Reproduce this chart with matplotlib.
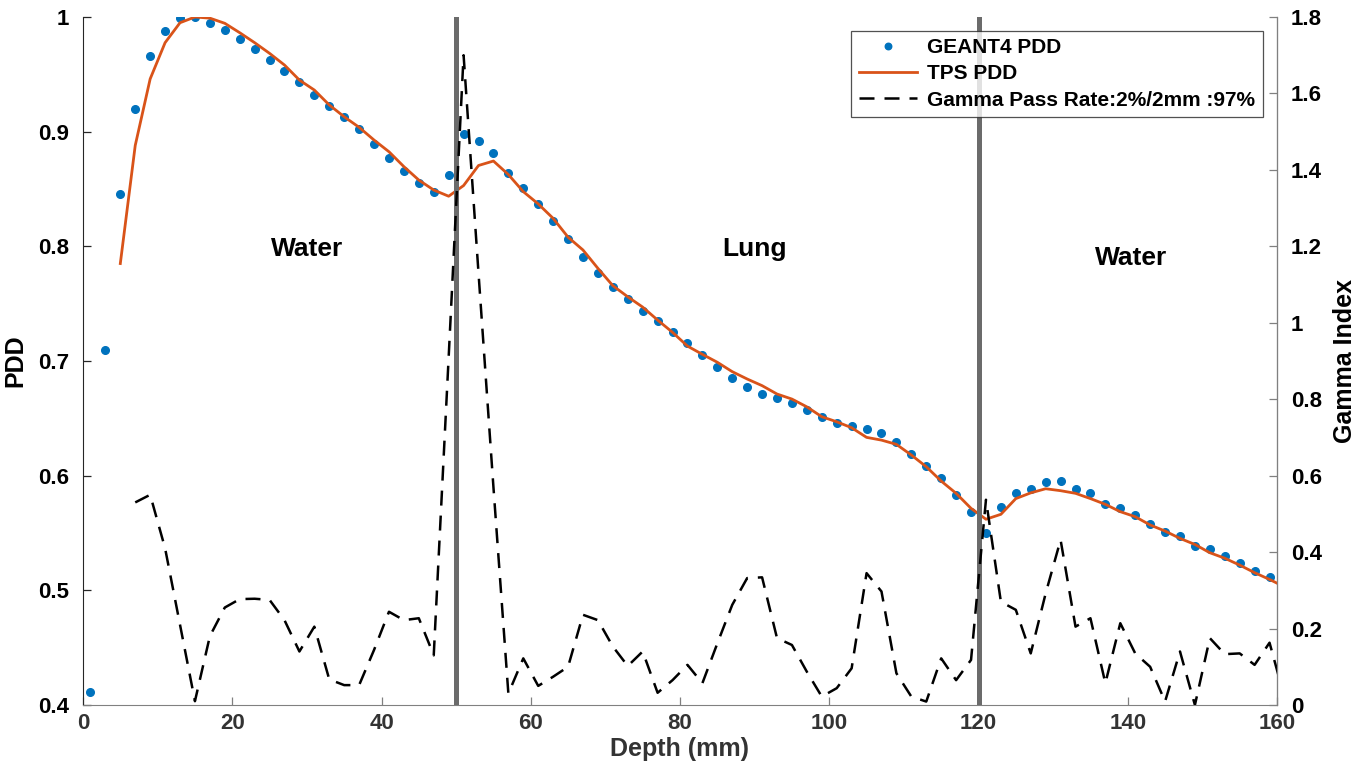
import matplotlib
matplotlib.use("Agg")
import matplotlib.pyplot as plt
from matplotlib.ticker import FuncFormatter
import numpy as np

plt.rcParams["font.family"] = ["Liberation Sans", "DejaVu Sans"]
plt.rcParams["font.weight"] = "bold"

# GEANT4 PDD (Monte Carlo points, every 2 mm)
geant_depth = np.arange(1, 160, 2)
geant_pdd = [
    0.411, 0.710, 0.846, 0.920, 0.966, 0.988, 0.999, 1.000, 0.995, 0.989,
    0.9805, 0.9718, 0.9625, 0.953, 0.943, 0.932, 0.9224, 0.913, 0.902, 0.8895,
    0.8773, 0.8657, 0.855, 0.8476, 0.862, 0.898, 0.892, 0.881, 0.864, 0.8506,
    0.837, 0.8224, 0.8067, 0.791, 0.7767, 0.7645, 0.7538, 0.7436, 0.7346, 0.7256,
    0.716, 0.7052, 0.6945, 0.6849, 0.677, 0.6715, 0.6675, 0.663, 0.657, 0.651,
    0.646, 0.643, 0.641, 0.637, 0.629, 0.6186, 0.608, 0.598, 0.583, 0.568,
    0.550, 0.5727, 0.585, 0.588, 0.5947, 0.5956, 0.5887, 0.585, 0.5753, 0.572,
    0.566, 0.558, 0.551, 0.5474, 0.539, 0.536, 0.530, 0.5236, 0.5166, 0.5119,
]

# TPS PDD
tps_depth = np.arange(5, 162, 2)
tps_pdd = [
    0.785, 0.888, 0.946, 0.9776, 0.995, 1.000, 0.999, 0.9945, 0.9863, 0.9776,
    0.9683, 0.9581, 0.945, 0.9363, 0.9233, 0.913, 0.9038, 0.8927, 0.8825, 0.8695,
    0.8578, 0.8491, 0.8437, 0.853, 0.8705, 0.8744, 0.8626, 0.8477, 0.837, 0.8244,
    0.808, 0.7968, 0.7808, 0.7657, 0.756, 0.747, 0.7357, 0.725, 0.713, 0.7058,
    0.6989, 0.6907, 0.6843, 0.6785, 0.6712, 0.6668, 0.660, 0.6514, 0.647, 0.6418,
    0.6334, 0.631, 0.6273, 0.618, 0.6078, 0.5953, 0.5846, 0.5715, 0.562, 0.5663,
    0.580, 0.585, 0.5886, 0.5869, 0.5846, 0.580, 0.575, 0.5686, 0.5642, 0.557,
    0.5517, 0.5453, 0.540, 0.5328, 0.528, 0.522, 0.5154, 0.5095, 0.503,
]

# Gamma index
gamma_depth = np.arange(7, 162, 2)
gamma_vals = [
    0.53, 0.55, 0.41, 0.21, 0.01, 0.18, 0.255, 0.277, 0.278, 0.275,
    0.222, 0.14, 0.205, 0.067, 0.052, 0.052, 0.144, 0.244, 0.222, 0.227,
    0.13, 0.91, 1.70, 1.13, 0.57, 0.03, 0.122, 0.05, 0.074, 0.10,
    0.236, 0.222, 0.153, 0.102, 0.14, 0.032, 0.065, 0.105, 0.057, 0.161,
    0.262, 0.332, 0.334, 0.175, 0.157, 0.087, 0.022, 0.044, 0.096, 0.345,
    0.297, 0.083, 0.022, 0.009, 0.122, 0.065, 0.118, 0.537, 0.27, 0.249,
    0.135, 0.292, 0.432, 0.205, 0.227, 0.057, 0.214, 0.135, 0.10, 0.009,
    0.14, 0.0, 0.175, 0.133, 0.135, 0.105, 0.163, 0.02,
]

interfaces = [50, 120]
regions = ["Water", "Lung", "Water"]
region_x = [30, 90, 140.5]
region_y = [0.798, 0.798, 0.79]

fig = plt.figure(figsize=(13.65, 7.77), dpi=100)
ax = fig.add_axes([83 / 1365, 72 / 777, (1277 - 83) / 1365, (705 - 17) / 777])
ax2 = ax.twinx()

h1, = ax.plot(geant_depth, geant_pdd, linestyle="none", marker="o", markersize=5.5,
              color="#0072BD", label="GEANT4 PDD", zorder=3)
h2, = ax.plot(tps_depth, tps_pdd, color="#D95319", linewidth=2.0,
              label="TPS PDD", zorder=4)
for xi in interfaces:
    ax.axvline(xi, color="#6b6b6b", linewidth=3.6, zorder=5)

for name, xr, yr in zip(regions, region_x, region_y):
    ax.text(xr, yr, name, fontsize=19, fontweight="bold", ha="center", va="center")

h3, = ax2.plot(gamma_depth, gamma_vals, color="black", linewidth=1.8,
               linestyle=(0, (6, 4)), label="Gamma Pass Rate:2%/2mm :97%")

ax.set_xlim(0, 160)
ax.set_ylim(0.4, 1.0)
ax2.set_ylim(0, 1.8)
ax.set_xticks(np.arange(0, 161, 20))
ax.set_yticks(np.arange(0.4, 1.01, 0.1))
ax2.set_yticks(np.arange(0, 1.81, 0.2))
fmt = FuncFormatter(lambda v, p: f"{v:g}")
ax.yaxis.set_major_formatter(fmt)
ax2.yaxis.set_major_formatter(fmt)

for a in (ax, ax2):
    a.spines["top"].set_visible(False)
    a.tick_params(direction="in", length=6, width=0.9, labelsize=16)
    for lab in a.get_xticklabels() + a.get_yticklabels():
        lab.set_fontweight("bold")
ax.spines["left"].set_color("#262626")
ax.spines["bottom"].set_color("#808080")
ax2.spines["right"].set_color("#808080")
ax2.spines["left"].set_visible(False)
ax2.spines["bottom"].set_visible(False)
ax.tick_params(axis="x", colors="#808080", labelcolor="#333333", pad=6)
ax.tick_params(axis="y", colors="#262626", labelcolor="black", pad=10)
ax2.tick_params(axis="y", colors="#808080", labelcolor="black", pad=10)

ax.set_xlabel("Depth (mm)", fontsize=18, fontweight="bold", color="#333333", labelpad=2)
ax.set_ylabel("PDD", fontsize=18, fontweight="bold", labelpad=8)
ax2.set_ylabel("Gamma Index", fontsize=18, fontweight="bold", labelpad=8)

leg = ax2.legend(handles=[h1, h2, h3], loc="upper right", bbox_to_anchor=(0.988, 0.98),
                 borderaxespad=0, prop={"weight": "bold", "size": 15}, frameon=True,
                 fancybox=False, edgecolor="#262626", handlelength=2.8, markerscale=0.85,
                 borderpad=0.35, labelspacing=0.35, handletextpad=0.5)
leg.get_frame().set_linewidth(0.9)
leg.set_zorder(10)

fig.savefig("out.png", dpi=100)
